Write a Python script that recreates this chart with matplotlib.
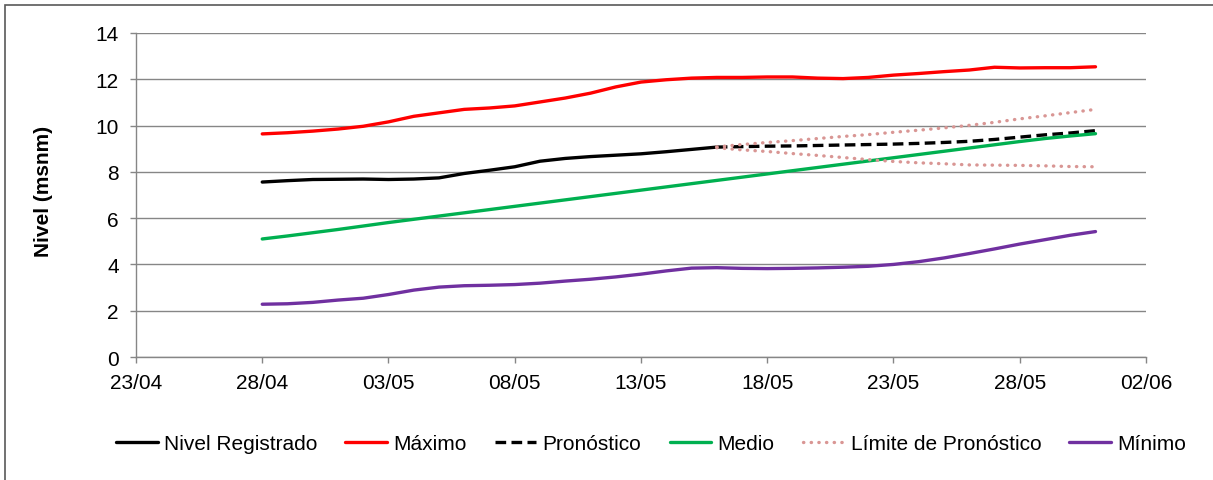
import matplotlib.pyplot as plt
import matplotlib.dates as mdates
import pandas as pd
from matplotlib.patches import Rectangle

plt.rcParams['font.family'] = ['Liberation Sans', 'DejaVu Sans']

# fechas diarias 28/04 - 31/05
fechas = pd.date_range('2013-04-28', '2013-05-31', freq='D')

maximo = [9.64, 9.69, 9.76, 9.85, 9.97, 10.16, 10.40, 10.55, 10.70, 10.76,
          10.85, 11.02, 11.19, 11.40, 11.67, 11.88, 11.98, 12.05, 12.08, 12.08,
          12.10, 12.10, 12.05, 12.03, 12.08, 12.18, 12.25, 12.33, 12.40, 12.52,
          12.49, 12.50, 12.50, 12.54]
medio = [5.10, 5.23, 5.37, 5.51, 5.66, 5.81, 5.95, 6.09, 6.23, 6.37,
         6.51, 6.65, 6.79, 6.93, 7.07, 7.21, 7.35, 7.49, 7.63, 7.77,
         7.91, 8.05, 8.19, 8.33, 8.47, 8.61, 8.75, 8.89, 9.03, 9.17,
         9.31, 9.44, 9.55, 9.65]
minimo = [2.28, 2.30, 2.36, 2.46, 2.54, 2.70, 2.89, 3.02, 3.08, 3.10,
          3.13, 3.19, 3.28, 3.36, 3.46, 3.58, 3.72, 3.84, 3.86, 3.83,
          3.82, 3.83, 3.85, 3.88, 3.92, 4.00, 4.12, 4.28, 4.47, 4.67,
          4.88, 5.07, 5.26, 5.42]

# nivel registrado hasta 16/05
registrado = [7.56, 7.62, 7.67, 7.68, 7.69, 7.67, 7.69, 7.74, 7.93, 8.07,
              8.22, 8.46, 8.58, 8.66, 8.72, 8.78, 8.87, 8.97, 9.07]

# pronostico y limites desde 16/05
pronostico = [9.07, 9.09, 9.11, 9.12, 9.14, 9.16, 9.18, 9.20, 9.23, 9.27,
              9.32, 9.40, 9.50, 9.60, 9.68, 9.78]
lim_sup = [9.08, 9.18, 9.27, 9.35, 9.44, 9.53, 9.61, 9.71, 9.80, 9.90,
           10.01, 10.14, 10.29, 10.42, 10.56, 10.70]
lim_inf = [9.04, 8.95, 8.88, 8.79, 8.71, 8.62, 8.53, 8.45, 8.39, 8.35,
           8.30, 8.29, 8.28, 8.26, 8.23, 8.22]

f_reg = fechas[:len(registrado)]
f_pron = fechas[len(registrado) - 1:]

fig = plt.figure(figsize=(12.13, 4.81), dpi=100)
ax = fig.add_axes([136 / 1213, 1 - 358 / 481, (1146 - 136) / 1213, (358 - 34) / 481])

fig.patches.append(Rectangle((5 / 1213, -0.1), 1.2, 1 - 6 / 481 + 0.1, transform=fig.transFigure,
                             fill=False, edgecolor='#595959', linewidth=1.2))

lw = 2.4
ax.plot(f_reg, registrado, color='black', lw=lw, label='Nivel Registrado', solid_capstyle='round')
ax.plot(fechas, maximo, color='#ff0000', lw=lw, label='Máximo', solid_capstyle='round')
ax.plot(f_pron, pronostico, color='black', lw=lw, ls=(0, (3.2, 1.6)), label='Pronóstico')
ax.plot(fechas, medio, color='#00b050', lw=lw, label='Medio', solid_capstyle='round')
ax.plot(f_pron, lim_sup, color='#d99694', lw=lw, ls=(0, (0.1, 2.2)), dash_capstyle='round',
        label='Límite de Pronóstico')
ax.plot(f_pron, lim_inf, color='#d99694', lw=lw, ls=(0, (0.1, 2.2)), dash_capstyle='round')
ax.plot(fechas, minimo, color='#7030a0', lw=lw, label='Mínimo', solid_capstyle='round')

ax.set_xlim(pd.Timestamp('2013-04-23'), pd.Timestamp('2013-06-02'))
ax.set_ylim(0, 14)
ax.set_xticks(pd.date_range('2013-04-23', '2013-06-02', freq='5D'))
ax.xaxis.set_major_formatter(mdates.DateFormatter('%d/%m'))
ax.set_yticks(range(0, 15, 2))

ax.grid(axis='y', color='#868686', lw=1)
ax.set_axisbelow(True)
for s in ['top', 'right']:
    ax.spines[s].set_visible(False)
for s in ['left', 'bottom']:
    ax.spines[s].set_color('#868686')
    ax.spines[s].set_linewidth(1)
ax.tick_params(axis='both', colors='#868686', labelcolor='black', labelsize=15, length=4.5, width=1)
ax.tick_params(axis='x', pad=7)
ax.tick_params(axis='y', pad=8)
ax.set_ylabel('Nivel (msnm)', fontweight='bold', fontsize=15)
ax.yaxis.set_label_coords(-0.082, 0.515)

fig.legend(loc='center', bbox_to_anchor=(651 / 1213, 1 - 445 / 481), ncol=6, frameon=False,
           fontsize=15, handlelength=2.0, handletextpad=0.3, columnspacing=1.35)

fig.savefig('out.png', dpi=100)
